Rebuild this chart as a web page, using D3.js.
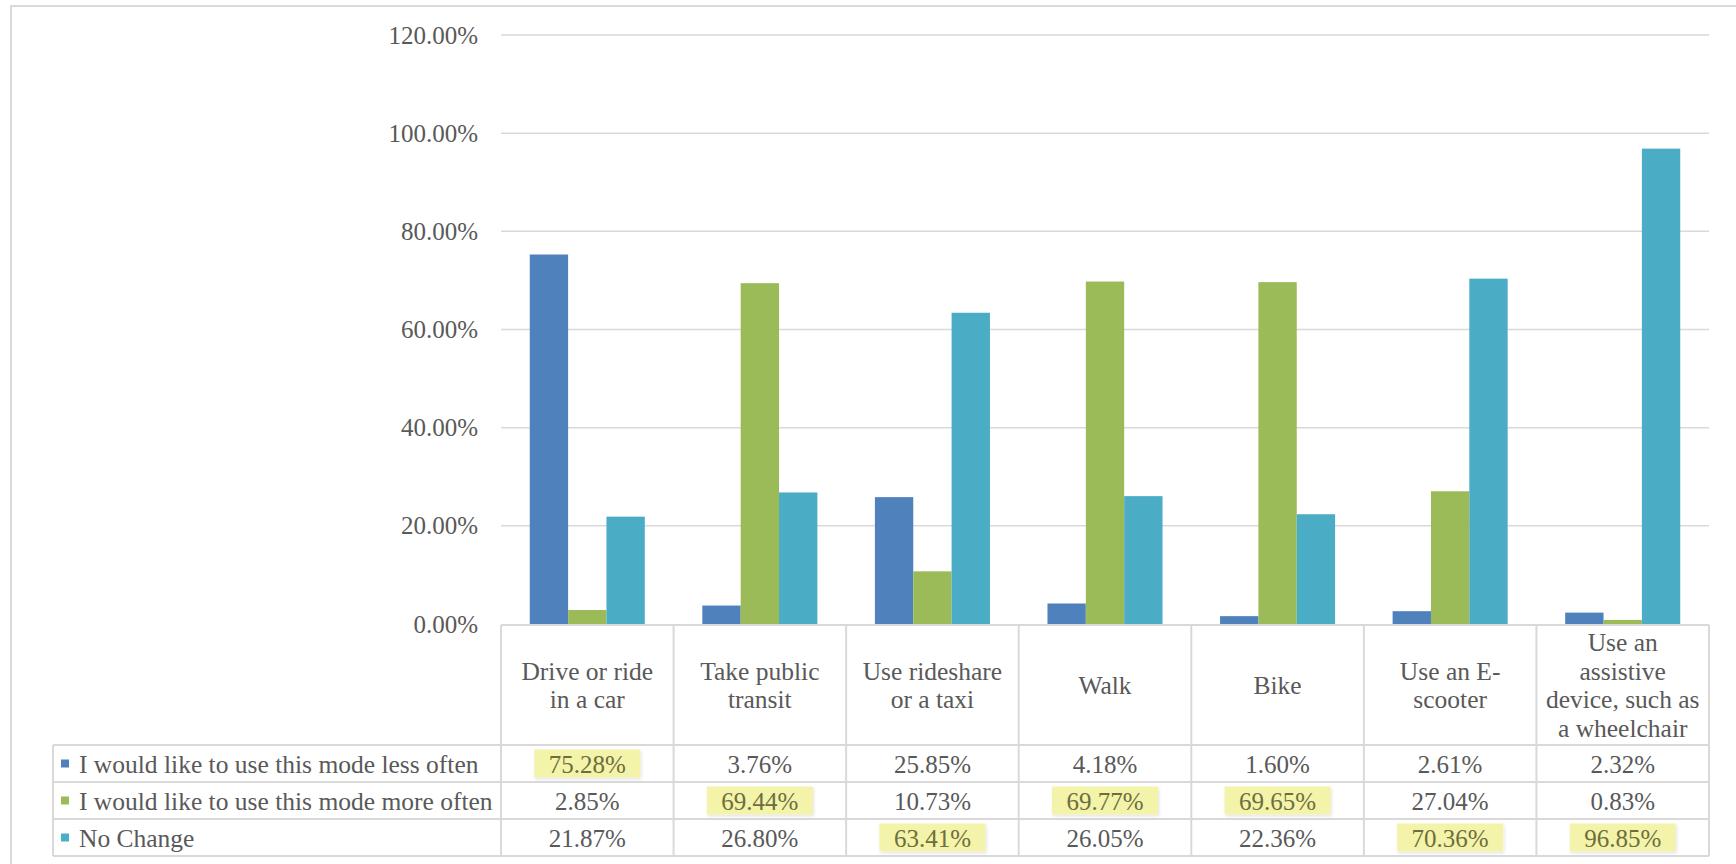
<!DOCTYPE html>
<html>
<head>
<meta charset="utf-8">
<script src="https://cdn.jsdelivr.net/npm/d3@7"></script>
<style>
  html, body { margin: 0; padding: 0; background: #fff; }
  svg { display: block; }
  text { font-family: "Liberation Serif", "DejaVu Serif", serif; fill: #595959; }
</style>
</head>
<body>
<svg id="chart" width="1736" height="864"></svg>
<script>
// ---- data ----
const categories = [
  "Drive or ride|in a car",
  "Take public|transit",
  "Use rideshare|or a taxi",
  "Walk",
  "Bike",
  "Use an E-|scooter",
  "Use an|assistive|device, such as|a wheelchair"
];
const seriesNames = [
  "I would like to use this mode less often",
  "I would like to use this mode more often",
  "No Change"
];
const lessOften = [75.28, 3.76, 25.85, 4.18, 1.60, 2.61, 2.32];
const moreOften = [2.85, 69.44, 10.73, 69.77, 69.65, 27.04, 0.83];
const noChange  = [21.87, 26.80, 63.41, 26.05, 22.36, 70.36, 96.85];
const yTicks = [0, 20, 40, 60, 80, 100, 120];
const colors = ["#4F81BD", "#9BBB59", "#4BACC6"];

const seriesValues = [lessOften, moreOften, noChange];

// ---- layout ----
const svg = d3.select("#chart");
const plotLeft = 501, plotRight = 1709, plotTop = 35, plotBottom = 624;
const legendLeft = 53;
const headerBottom = 745, rowH = 37;
const gridColor = "#D9D9D9";

const y = d3.scaleLinear().domain([0, 120]).range([plotBottom, plotTop]);
const x0 = d3.scaleBand().domain(categories).range([plotLeft, plotRight]).padding(0);
const x1 = d3.scaleBand().domain(d3.range(seriesNames.length))
  .range([0, x0.bandwidth()]).paddingInner(0).paddingOuter(0.75);

// outer frame
svg.append("path")
  .attr("d", "M11,870 L11,6 L1740,6")
  .attr("fill", "none").attr("stroke", gridColor).attr("stroke-width", 2);

// gridlines
svg.append("g").selectAll("line").data(yTicks.filter(t => t > 0)).join("line")
  .attr("x1", plotLeft).attr("x2", plotRight)
  .attr("y1", d => y(d)).attr("y2", d => y(d))
  .attr("stroke", gridColor).attr("stroke-width", 1.5);

// y axis labels
svg.append("g").selectAll("text").data(yTicks).join("text")
  .attr("x", 478).attr("y", d => y(d))
  .attr("text-anchor", "end").attr("dominant-baseline", "central")
  .style("font-size", "25px")
  .text(d => d3.format(".2f")(d) + "%");

// bars
const groups = svg.append("g").selectAll("g").data(categories).join("g")
  .attr("transform", d => `translate(${x0(d)},0)`);
groups.selectAll("rect").data((d, ci) => seriesValues.map((s, si) => ({si, v: s[ci]}))).join("rect")
  .attr("x", d => x1(d.si)).attr("width", x1.bandwidth())
  .attr("y", d => y(d.v)).attr("height", d => y(0) - y(d.v))
  .attr("fill", d => colors[d.si]);

// ---- data table ----
const table = svg.append("g");
const tableBottom = headerBottom + rowH * seriesNames.length;
table.append("line").attr("x1", plotLeft).attr("x2", plotRight)
  .attr("y1", y(0) + 1).attr("y2", y(0) + 1).attr("stroke", gridColor).attr("stroke-width", 2);
table.selectAll("line.h").data(d3.range(seriesNames.length + 1)).join("line")
  .attr("class", "h")
  .attr("x1", legendLeft).attr("x2", plotRight)
  .attr("y1", i => headerBottom + i * rowH).attr("y2", i => headerBottom + i * rowH)
  .attr("stroke", gridColor).attr("stroke-width", 2);
const colEdges = categories.map(c => x0(c)).concat([plotRight]);
table.selectAll("line.v").data(colEdges).join("line")
  .attr("class", "v")
  .attr("x1", d => d).attr("x2", d => d)
  .attr("y1", y(0) + 1).attr("y2", tableBottom)
  .attr("stroke", gridColor).attr("stroke-width", 2);
table.append("line").attr("x1", legendLeft).attr("x2", legendLeft)
  .attr("y1", headerBottom).attr("y2", tableBottom)
  .attr("stroke", gridColor).attr("stroke-width", 2);

// category labels (header)
const headerMid = (y(0) + headerBottom) / 2 + 1;
const lineH = 28.5;
categories.forEach(c => {
  const lines = c.split("|");
  const t = table.append("text")
    .attr("text-anchor", "middle").style("font-size", "25.5px");
  lines.forEach((ln, i) => {
    t.append("tspan")
      .attr("x", x0(c) + x0.bandwidth() / 2)
      .attr("y", headerMid + (i - (lines.length - 1) / 2) * lineH)
      .attr("dominant-baseline", "central")
      .text(ln);
  });
});

// legend rows
seriesNames.forEach((name, si) => {
  const cy = headerBottom + si * rowH + rowH / 2;
  table.append("rect").attr("x", 61).attr("y", cy - 4).attr("width", 8).attr("height", 8)
    .attr("fill", colors[si]);
  table.append("text").attr("x", 79).attr("y", cy + 1)
    .attr("dominant-baseline", "central").style("font-size", "25.5px").text(name);
});

// highlight filter
const defs = svg.append("defs");
const f = defs.append("filter").attr("id", "shadow").attr("x", "-20%").attr("y", "-30%")
  .attr("width", "140%").attr("height", "160%");
f.append("feDropShadow").attr("dx", 1).attr("dy", 1.5).attr("stdDeviation", 1.5)
  .attr("flood-color", "#000").attr("flood-opacity", 0.12);

// values
categories.forEach((c, ci) => {
  const colVals = seriesValues.map(s => s[ci]);
  const maxV = d3.max(colVals);
  const cx = x0(c) + x0.bandwidth() / 2;
  seriesValues.forEach((s, si) => {
    const cy = headerBottom + si * rowH + rowH / 2;
    const hl = s[ci] === maxV;
    if (hl) {
      table.append("rect").attr("x", cx - 53).attr("y", cy - 14)
        .attr("width", 106).attr("height", 28)
        .attr("fill", "#F3F3AA").attr("filter", "url(#shadow)");
    }
    table.append("text").attr("x", cx).attr("y", cy + 1)
      .attr("text-anchor", "middle").attr("dominant-baseline", "central")
      .style("font-size", "25px")
      .style("fill", hl ? "#6E6E3C" : "#595959")
      .text(d3.format(".2f")(s[ci]) + "%");
  });
});
</script>
</body>
</html>
